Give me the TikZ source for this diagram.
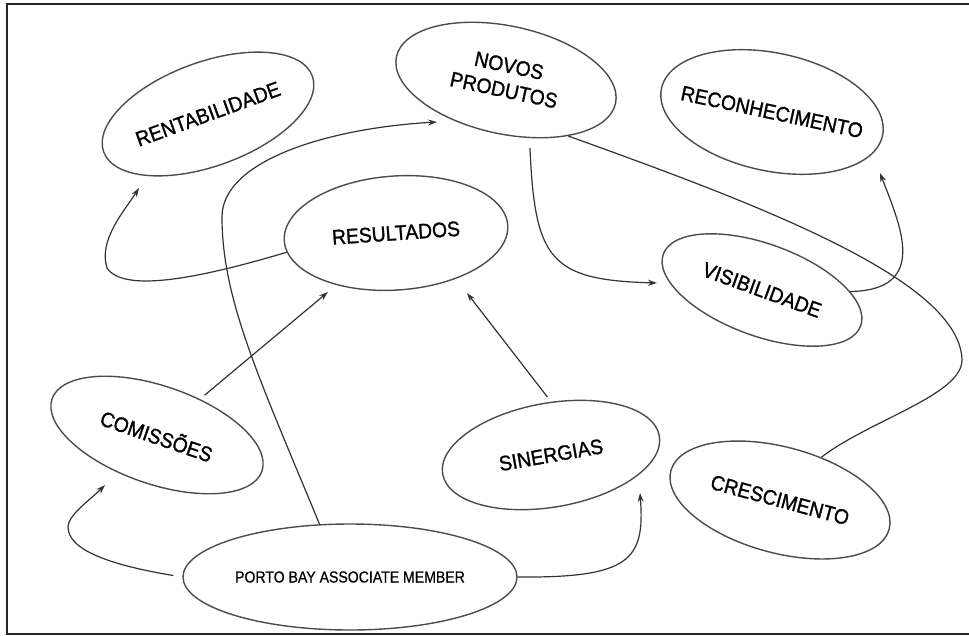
\documentclass[tikz,border=0pt]{standalone}
\usepackage{fontspec}
\usepackage{tikz}
\usetikzlibrary{arrows.meta,shapes.geometric}
\newfontfamily\mapfont[FakeStretch=0.92,FakeBold=1.2]{Liberation Sans}
\newfontfamily\memberfont[FakeStretch=0.88,FakeBold=0.6]{Liberation Sans}
\tikzset{
  mm/bubble/.style={draw=black!70, ellipse, line width=1.4pt, inner sep=0pt, font=\mapfont\fontsize{21}{25}\selectfont},
  mm/size/.style 2 args={minimum width=#1, minimum height=#2},
  mm/link/.style={draw=black!80, line width=1.2pt},
  mm/flow/.style={mm/link, -{Stealth[length=9pt, width=6pt]}},
  mm/frame/.style={draw=black!85, line width=2.2pt}
}

\begin{document}
\begin{tikzpicture}[x=1pt, y=-1pt]
  \useasboundingbox (0,0) rectangle (969,635);
  \draw[mm/frame] (975,4) -- (7,4) -- (7,634) -- (975,634);

  % bubbles (text boxed to zero width so the ellipse keeps its size)
  \node[mm/bubble, mm/size={222pt}{104pt}, rotate=20] (rent) at (208,114) {\makebox[0pt]{RENTABILIDADE}};
  \node[mm/bubble, mm/size={224pt}{108pt}, rotate=-12] (novos) at (506,80)
    {\makebox[0pt]{\begin{tabular}{@{}c@{}}NOVOS\\PRODUTOS\end{tabular}}};
  \node[mm/bubble, mm/size={226pt}{118pt}, rotate=-12] (recon) at (772,112) {\makebox[0pt]{RECONHECIMENTO}};
  \node[mm/bubble, mm/size={224pt}{114pt}, rotate=4] (result) at (396,233) {\makebox[0pt]{RESULTADOS}};
  \node[mm/bubble, mm/size={210pt}{92pt}, rotate=-20] (visib) at (762,290) {\makebox[0pt]{VISIBILIDADE}};
  \node[mm/bubble, mm/size={222pt}{98pt}, rotate=-19] (comis) at (157,435) {\makebox[0pt]{COMISSÕES}};
  \node[mm/bubble, mm/size={220pt}{104pt}, rotate=10] (siner) at (551,455) {\makebox[0pt]{SINERGIAS}};
  \node[mm/bubble, mm/size={226pt}{106pt}, rotate=-15] (cresc) at (780,500) {\makebox[0pt]{CRESCIMENTO}};
  \node[mm/bubble, mm/size={334pt}{106pt}, font=\memberfont\fontsize{16}{19}\selectfont] (porto) at (350,577)
    {\makebox[0pt]{PORTO BAY ASSOCIATE MEMBER}};

  % arrow ends stop short of the bubbles
  \coordinate (rent-in) at (139,188);
  \coordinate (novos-in) at (437,122);
  \coordinate (recon-in) at (880,173);
  \coordinate (result-in1) at (328,292);
  \coordinate (result-in2) at (467,293);
  \coordinate (visib-in) at (657,283);
  \coordinate (comis-in) at (105,485);
  \coordinate (siner-in) at (640,493);

  \draw[mm/flow] (result.186) .. controls (210,275) and (125,295) .. (107,268)
    .. controls (98,240) and (125,210) .. (rent-in);
  \draw[mm/flow] (porto.120) .. controls (260,380) and (222,300) .. (222,217)
    .. controls (222,160) and (330,128) .. (novos-in);
  \draw[mm/flow, shorten <=9pt] (porto.west) .. controls (110,565) and (68,550) .. (68,527)
    .. controls (68,515) and (90,500) .. (comis-in);
  \draw[mm/flow] (porto.east) .. controls (630,578) and (645,560) .. (siner-in);
  \draw[mm/flow, shorten <=6pt] (comis) -- (result-in1);
  \draw[mm/flow, shorten <=6pt] (siner.80) -- (result-in2);
  \draw[mm/flow, shorten <=10pt] (novos.-56) .. controls (535,260) and (550,280) .. (visib-in);
  \draw[mm/link] (novos.-30) .. controls (760,205) and (960,280) .. (962,360)
    .. controls (962,395) and (870,420) .. (cresc.61);
  \draw[mm/flow] (visib.19) .. controls (930,290) and (900,225) .. (recon-in);
\end{tikzpicture}
\end{document}
